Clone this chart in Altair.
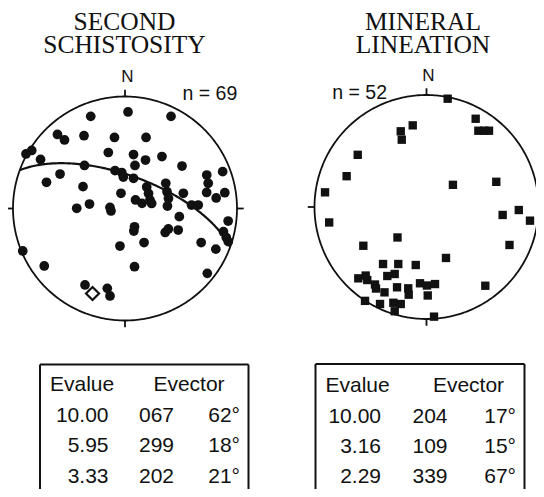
import numpy as np
import pandas as pd
import altair as alt

# ---------------- DATA (equal-area net coordinates: x = east, y = north, 1 = primitive) ----------------
s2_x = [-0.306, 0.027, 0.411, -0.603, -0.540, -0.366, -0.094, 0.188, -0.884, -0.833,
        -0.754, -0.149, 0.076, 0.183, 0.330, -0.362, -0.580, -0.701, -0.375, -0.089,
        -0.029, -0.015, 0.089, 0.076, 0.509, -0.036, 0.194, 0.210, 0.223, 0.238,
        0.094, 0.152, 0.364, 0.375, 0.388, 0.379, 0.521, 0.594, 0.654, 0.730,
        0.743, 0.729, 0.872, 0.891, 0.814, -0.431, -0.317, -0.134, -0.125, 0.485,
        0.921, 0.879, 0.904, 0.922, 0.085, 0.079, 0.359, 0.387, 0.475, -0.045,
        0.170, 0.680, 0.811, -0.913, -0.721, 0.085, 0.735, -0.357, -0.158, -0.134]
s2_y = [0.823, 0.862, 0.823, 0.661, 0.612, 0.650, 0.634, 0.634, 0.487, 0.518,
        0.438, 0.500, 0.482, 0.433, 0.464, 0.384, 0.308, 0.234, 0.195, 0.338,
        0.321, 0.281, 0.384, 0.270, 0.379, 0.136, 0.192, 0.134, 0.076, 0.045,
        0.076, 0.046, 0.225, 0.150, 0.089, 0.022, 0.136, 0.031, 0.031, 0.299,
        0.225, 0.143, 0.329, 0.141, 0.094, 0.002, 0.040, 0.009, -0.022, -0.073,
        -0.112, -0.207, -0.259, -0.296, -0.163, -0.201, -0.214, -0.183, -0.192, -0.335,
        -0.304, -0.304, -0.363, -0.379, -0.513, -0.520, -0.579, -0.683, -0.713, -0.781]
s2_mean_x = [-0.290]
s2_mean_y = [-0.759]
girdle_dipdir = 20
girdle_dip = 66

lin_x = [0.189, 0.439, 0.463, 0.516, 0.558, -0.123, -0.230, -0.221, -0.614, -0.713,
         -0.906, 0.236, 0.623, -0.869, 0.680, 0.824, 0.924, 0.741, -0.259, -0.564,
         0.174, -0.388, -0.252, -0.096, -0.350, -0.284, -0.609, -0.543, -0.529, -0.460,
         -0.451, -0.375, -0.263, -0.163, -0.159, -0.058, 0.004, 0.076, 0.011, 0.525,
         -0.549, -0.415, -0.296, -0.230, -0.284, 0.067]
lin_y = [0.967, 0.788, 0.681, 0.681, 0.681, 0.729, 0.676, 0.601, 0.466, 0.275,
         0.131, 0.198, 0.225, -0.138, -0.071, -0.027, -0.122, -0.339, -0.272, -0.346,
         -0.455, -0.509, -0.509, -0.518, -0.616, -0.598, -0.637, -0.612, -0.652, -0.692,
         -0.728, -0.762, -0.717, -0.726, -0.783, -0.681, -0.701, -0.688, -0.790, -0.703,
         -0.838, -0.866, -0.855, -0.866, -0.931, -0.979]

titles = ["SECOND\nSCHISTOSITY", "MINERAL\nLINEATION"]
n_labels = ["n = 69", "n = 52"]
north_label = "N"
table_header = ["Evalue", "Evector"]
t1_evalue = ["10.00", "5.95", "3.33"]
t1_trend = ["067", "299", "202"]
t1_plunge = ["62°", "18°", "21°"]
t2_evalue = ["10.00", "3.16", "2.29"]
t2_trend = ["204", "109", "339"]
t2_plunge = ["17°", "15°", "67°"]

# ---------------- LAYOUT ----------------
W, H = 528, 481
NETS = [dict(cx=125.0, cy=208.5, r=112.0), dict(cx=426.5, cy=207.0, r=112.0)]
INK = "#111111"
SANS = "Liberation Sans"
SERIF = "Liberation Serif"

xs = alt.Scale(domain=[8, 8 + W], range=[0, W], nice=False, zero=False)
ys = alt.Scale(domain=[8, 8 + H], range=[0, H], nice=False, zero=False)


def page(net, x, y):
    n = NETS[net]
    return n["cx"] + np.asarray(x) * n["r"], n["cy"] - np.asarray(y) * n["r"]


def enc(**kw):
    return dict(x=alt.X("px:Q", scale=xs, axis=None), y=alt.Y("py:Q", scale=ys, axis=None), **kw)


# primitive circles
th = np.linspace(0, 2 * np.pi, 361)
rows = []
for k in range(2):
    px, py = page(k, np.cos(th), np.sin(th))
    rows.append(pd.DataFrame({"px": px, "py": py, "i": np.arange(len(th)), "net": k}))
circ = pd.concat(rows)
circ_layer = alt.Chart(circ).mark_line(color=INK, strokeWidth=1.8).encode(
    **enc(order="i:Q", detail="net:N"))

# ticks
trows = []
for k in range(2):
    for ux, uy in [(0, 1), (1, 0), (0, -1), (-1, 0)]:
        a = page(k, ux * 1.0, uy * 1.0)
        b = page(k, ux * 1.06, uy * 1.06)
        trows.append({"px": a[0], "py": a[1], "px2": b[0], "py2": b[1]})
ticks = pd.DataFrame(trows)
tick_layer = alt.Chart(ticks).mark_rule(color=INK, strokeWidth=1.8).encode(
    x=alt.X("px:Q", scale=xs, axis=None), y=alt.Y("py:Q", scale=ys, axis=None),
    x2="px2:Q", y2="py2:Q")

# great circle (girdle) in equal-area projection
t = np.linspace(0, np.pi, 181)
dd = np.radians(girdle_dipdir)
dp = np.radians(girdle_dip)
sN, sE, sD = np.cos(dd - np.pi / 2), np.sin(dd - np.pi / 2), 0.0
dN, dE, dD = np.cos(dp) * np.cos(dd), np.cos(dp) * np.sin(dd), np.sin(dp)
LN = np.cos(t) * sN + np.sin(t) * dN
LE = np.cos(t) * sE + np.sin(t) * dE
LD = np.cos(t) * sD + np.sin(t) * dD
hh = np.sqrt(LN ** 2 + LE ** 2)
kk = np.sqrt(np.clip(1 - LD, 0, None)) / hh
gx, gy = page(0, LE * kk, LN * kk)
gc = pd.DataFrame({"px": gx, "py": gy, "i": np.arange(len(t))})
gc_layer = alt.Chart(gc).mark_line(color=INK, strokeWidth=2.2).encode(**enc(order="i:Q"))

# points
px, py = page(0, s2_x, s2_y)
dots = alt.Chart(pd.DataFrame({"px": px, "py": py})).mark_circle(
    color=INK, size=95, opacity=1).encode(**enc())
px, py = page(0, s2_mean_x, s2_mean_y)
diamond = alt.Chart(pd.DataFrame({"px": px, "py": py})).mark_point(
    shape="diamond", filled=True, fill="white", stroke=INK, strokeWidth=2.2, size=170, opacity=1).encode(**enc())
px, py = page(1, lin_x, lin_y)
squares = alt.Chart(pd.DataFrame({"px": px, "py": py})).mark_square(
    color=INK, size=70, opacity=1).encode(**enc())

# titles (two-line, tight leading)
title_df = pd.DataFrame({"px": [124.5, 423.0], "py": [29.5, 29.5], "txt": titles})
title_layer = alt.Chart(title_df).mark_text(
    font=SERIF, fontSize=25.5, color=INK, align="center", baseline="alphabetic",
    lineBreak="\n", lineHeight=23).encode(**enc(text="txt:N"))

# N labels
nl = pd.DataFrame({"px": [NETS[0]["cx"] + 2.5, NETS[1]["cx"] + 2.0], "py": [81.5, 80.5],
                   "txt": [north_label, north_label]})
n_layer = alt.Chart(nl).mark_text(font=SANS, fontSize=17, color=INK, align="center",
                                  baseline="alphabetic").encode(**enc(text="txt:N"))
cnt1 = alt.Chart(pd.DataFrame({"px": [182.5], "py": [100.0], "txt": [n_labels[0]]})).mark_text(
    font=SANS, fontSize=19.5, color=INK, align="left", baseline="alphabetic").encode(**enc(text="txt:N"))
cnt2 = alt.Chart(pd.DataFrame({"px": [387.0], "py": [99.0], "txt": [n_labels[1]]})).mark_text(
    font=SANS, fontSize=19.5, color=INK, align="right", baseline="alphabetic").encode(**enc(text="txt:N"))

# tables
BOX = [dict(l=40.0, r=248.5, t=364.5), dict(l=315.5, r=524.5, t=364.0)]
brows = []
for b in BOX:
    brows.append({"px": b["l"], "py": b["t"], "px2": b["r"], "py2": b["t"]})
    brows.append({"px": b["l"], "py": b["t"], "px2": b["l"], "py2": 8 + H})
    brows.append({"px": b["r"], "py": b["t"], "px2": b["r"], "py2": 8 + H})
box_layer = alt.Chart(pd.DataFrame(brows)).mark_rule(color=INK, strokeWidth=2).encode(
    x=alt.X("px:Q", scale=xs, axis=None), y=alt.Y("py:Q", scale=ys, axis=None),
    x2="px2:Q", y2="py2:Q")

COLS = [dict(hl=50.0, hc=189.0, ev=108.5, tr=156.5, pl=240.0, hb=391.0, rb=[421.5, 451.5, 482.5]),
        dict(hl=325.5, hc=468.5, ev=381.0, tr=430.0, pl=516.0, hb=392.0, rb=[423.0, 453.0, 483.0])]
tables = [(t1_evalue, t1_trend, t1_plunge), (t2_evalue, t2_trend, t2_plunge)]
left_rows, center_rows, right_rows = [], [], []
for c, (ev, tr, pl) in zip(COLS, tables):
    left_rows.append({"px": c["hl"], "py": c["hb"], "txt": table_header[0]})
    center_rows.append({"px": c["hc"], "py": c["hb"], "txt": table_header[1]})
    for i in range(3):
        right_rows.append({"px": c["ev"], "py": c["rb"][i], "txt": ev[i]})
        center_rows.append({"px": c["tr"], "py": c["rb"][i], "txt": tr[i]})
        right_rows.append({"px": c["pl"], "py": c["rb"][i], "txt": pl[i]})


def txt_layer(rows, align):
    return alt.Chart(pd.DataFrame(rows)).mark_text(
        font=SANS, fontSize=21, color=INK, align=align, baseline="alphabetic").encode(**enc(text="txt:N"))


chart = alt.layer(
    circ_layer, tick_layer, gc_layer, dots, diamond, squares,
    title_layer, n_layer, cnt1, cnt2, box_layer,
    txt_layer(left_rows, "left"), txt_layer(center_rows, "center"), txt_layer(right_rows, "right"),
).properties(
    width=W, height=H, padding=0, background="white",
    autosize=alt.AutoSizeParams(type="none"),
).configure_view(stroke=None)

chart.save("out.html", embed_options={"renderer": "svg", "actions": False})
